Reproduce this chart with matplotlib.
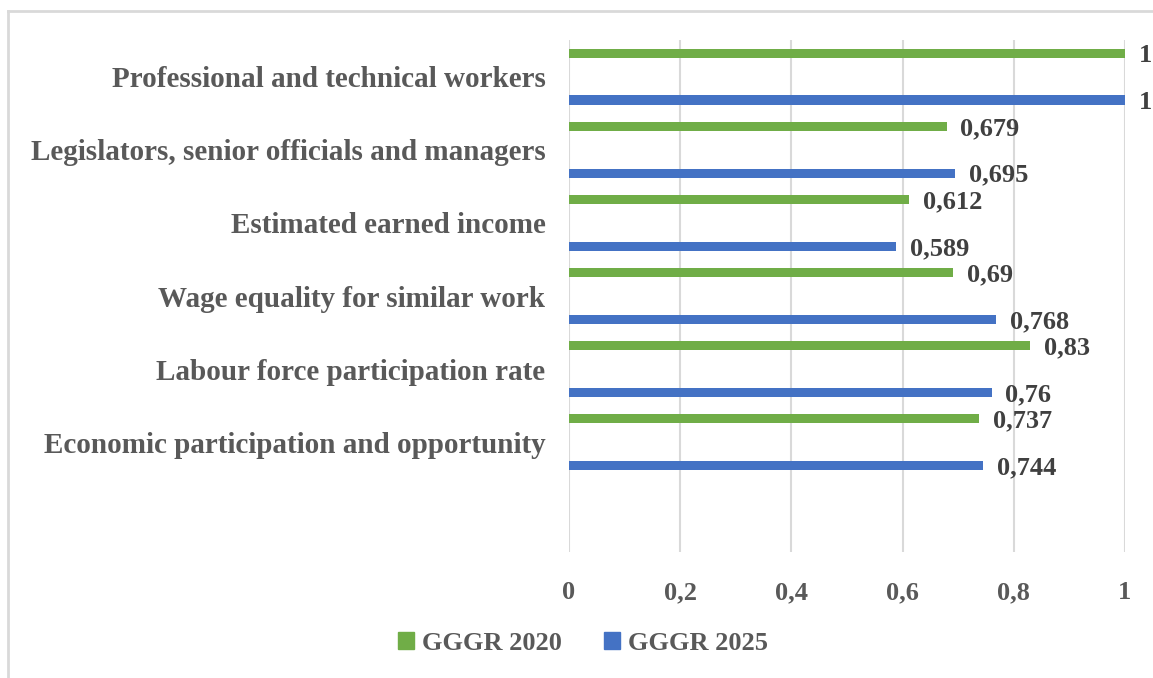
import numpy as np
import matplotlib.pyplot as plt
from matplotlib.lines import Line2D
from matplotlib.patches import Patch

# data (bottom to top)
categories = ['Economic participation and opportunity',
              'Labour force participation rate',
              'Wage equality for similar work',
              'Estimated earned income',
              'Legislators, senior officials and managers',
              'Professional and technical workers']
gggr_2020 = [0.737, 0.83, 0.69, 0.612, 0.679, 1]
gggr_2025 = [0.744, 0.76, 0.768, 0.589, 0.695, 1]
series_names = ['GGGR 2020', 'GGGR 2025']
xticks = [0, 0.2, 0.4, 0.6, 0.8, 1]

green = '#70AD47'
blue = '#4472C4'
txt = '#595959'

plt.rcParams['font.family'] = ['Liberation Serif', 'DejaVu Serif']
plt.rcParams['font.weight'] = 'bold'

fig = plt.figure(figsize=(11.53, 6.78), dpi=100)
ax = fig.add_axes([569 / 1153, 1 - 552 / 678, (1125 - 569) / 1153, (552 - 40) / 678])

y = np.arange(len(categories))
off = 0.32
h = 0.125
ax.barh(y + off, gggr_2020, height=h, color=green, zorder=3)
ax.barh(y - off, gggr_2025, height=h, color=blue, zorder=3)

def fmt(v):
    return ('%g' % v).replace('.', ',')

# value labels
for yi, v in zip(y + off, gggr_2020):
    ax.annotate(fmt(v), (v, yi), xytext=(10, -1.5), textcoords='offset points',
                va='center', ha='left', fontsize=19, color='#404040', fontweight='bold')
for yi, v in zip(y - off, gggr_2025):
    ax.annotate(fmt(v), (v, yi), xytext=(10, -1.5), textcoords='offset points',
                va='center', ha='left', fontsize=19, color='#404040', fontweight='bold')

ax.set_xlim(0, 1)
ax.set_ylim(-1.5, 5.5)
ax.set_xticks(xticks)
ax.set_xticklabels([fmt(t) for t in xticks], fontsize=19, color=txt, fontweight='bold')
ax.set_yticks(y)
ax.set_yticklabels(categories, fontsize=21, color=txt, fontweight='bold')
ax.tick_params(axis='both', length=0)
ax.tick_params(axis='x', pad=21)
ax.tick_params(axis='y', pad=17)
ax.grid(axis='x', color='#d9d9d9', linewidth=1.5, zorder=0)
for s in ax.spines.values():
    s.set_visible(False)

handles = [Patch(color=green), Patch(color=blue)]
leg = fig.legend(handles, series_names, loc='center', bbox_to_anchor=(583 / 1153, 1 - 643 / 678),
                 ncol=2, frameon=False, fontsize=19, handlelength=0.6, handleheight=0.6,
                 handletextpad=0.3, columnspacing=1.6)
for t in leg.get_texts():
    t.set_color(txt)
    t.set_fontweight('bold')

# outer frame (only left and top edges visible)
fig.add_artist(Line2D([8 / 1153, 8 / 1153], [0, 1 - 11 / 678], transform=fig.transFigure,
                      color='#d9d9d9', linewidth=2))
fig.add_artist(Line2D([8 / 1153, 1], [1 - 11 / 678, 1 - 11 / 678], transform=fig.transFigure,
                      color='#d9d9d9', linewidth=2))

fig.savefig('out.png', dpi=100)
